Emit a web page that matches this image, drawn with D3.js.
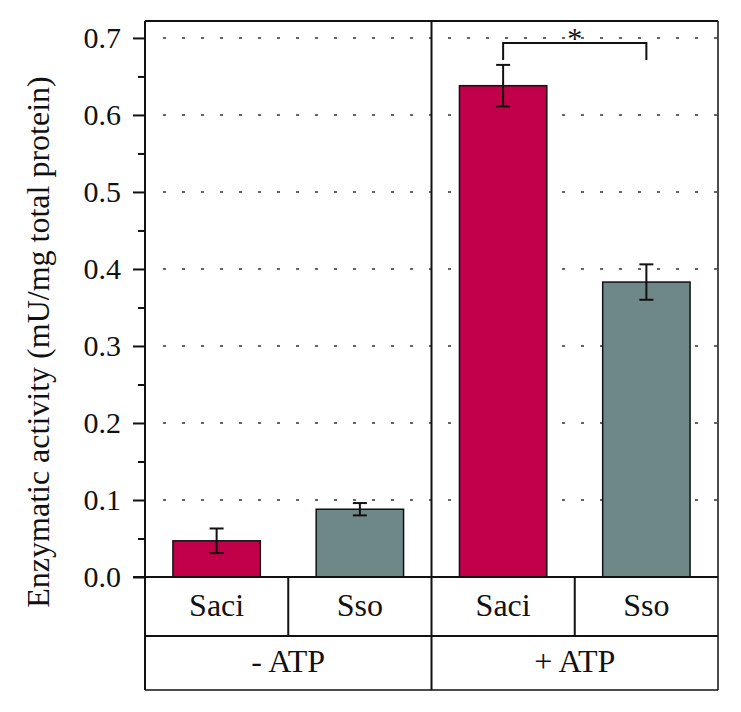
<!DOCTYPE html>
<html>
<head>
<meta charset="utf-8">
<script src="https://cdn.jsdelivr.net/npm/d3@7"></script>
<style>
  html, body { margin: 0; padding: 0; background: #fff; }
  svg { display: block; }
  text { font-family: "Liberation Serif", "Times New Roman", serif; fill: #111; }
</style>
</head>
<body>
<svg id="chart" width="741" height="712"></svg>
<script>
const conditions = ["- ATP", "+ ATP"];
const strains = ["Saci", "Sso"];
const saciMeans = [0.047, 0.638];
const ssoMeans = [0.088, 0.383];
const saciErr = [0.016, 0.027];
const ssoErr = [0.008, 0.023];
const yTicks = [0.0, 0.1, 0.2, 0.3, 0.4, 0.5, 0.6, 0.7];
const yMinorTicks = [0.05, 0.15, 0.25, 0.35, 0.45, 0.55, 0.65];
const yLabel = "Enzymatic activity (mU/mg total protein)";
const sigPair = [["+ ATP", "Saci"], ["+ ATP", "Sso"]];
const sigText = "*";
const colors = { "Saci": "#C10049", "Sso": "#6E8787" };

const data = [];
conditions.forEach((c, i) => {
  data.push({ cond: c, strain: "Saci", mean: saciMeans[i], err: saciErr[i] });
  data.push({ cond: c, strain: "Sso", mean: ssoMeans[i], err: ssoErr[i] });
});

const svg = d3.select("#chart");
const L = 145, R = 718, T = 21, B = 577;
const row1 = 636, row2 = 690;

const y = d3.scaleLinear().domain([0, 0.722]).range([B, T]);
const x0 = d3.scaleBand().domain(conditions).range([L, R]);
const x1 = d3.scaleBand().domain(strains).range([0, x0.bandwidth()])
  .paddingInner(0.39).paddingOuter(0.195);

// gridlines
svg.append("g").selectAll("line").data(yTicks.filter(d => d > 0)).join("line")
  .attr("x1", L + 18).attr("x2", R).attr("y1", d => y(d)).attr("y2", d => y(d))
  .attr("stroke", "#333").attr("stroke-width", 1.4).attr("stroke-dasharray", "3,16");

// bars
const bars = svg.append("g");
bars.selectAll("rect").data(data).join("rect")
  .attr("x", d => x0(d.cond) + x1(d.strain))
  .attr("width", x1.bandwidth())
  .attr("y", d => y(d.mean))
  .attr("height", d => y(0) - y(d.mean))
  .attr("fill", d => colors[d.strain])
  .attr("stroke", "#111").attr("stroke-width", 1.5);

// error bars
const eb = svg.append("g").attr("stroke", "#111").attr("stroke-width", 2).attr("fill", "none");
const cx = d => x0(d.cond) + x1(d.strain) + x1.bandwidth() / 2;
eb.selectAll("line.v").data(data).join("line").attr("class", "v")
  .attr("x1", cx).attr("x2", cx)
  .attr("y1", d => y(d.mean + d.err)).attr("y2", d => y(d.mean - d.err));
eb.selectAll("line.t").data(data).join("line").attr("class", "t")
  .attr("x1", d => cx(d) - 7).attr("x2", d => cx(d) + 7)
  .attr("y1", d => y(d.mean + d.err)).attr("y2", d => y(d.mean + d.err));
eb.selectAll("line.b").data(data).join("line").attr("class", "b")
  .attr("x1", d => cx(d) - 7).attr("x2", d => cx(d) + 7)
  .attr("y1", d => y(d.mean - d.err)).attr("y2", d => y(d.mean - d.err));

// y axis
const yAxis = d3.axisLeft(y).tickValues(yTicks).tickFormat(d3.format(".1f")).tickSize(12).tickPadding(12);
const ag = svg.append("g").attr("transform", `translate(${L},0)`).call(yAxis);
ag.select(".domain").remove();
ag.selectAll(".tick line").attr("stroke", "#111").attr("stroke-width", 2);
ag.selectAll(".tick text").attr("font-size", 30).attr("font-family", "Liberation Serif, serif").attr("fill", "#111");
const minor = d3.axisLeft(y).tickValues(yMinorTicks).tickSize(7).tickFormat("");
const mg = svg.append("g").attr("transform", `translate(${L},0)`).call(minor);
mg.select(".domain").remove();
mg.selectAll(".tick line").attr("stroke", "#111").attr("stroke-width", 2);

// frame
const frame = svg.append("g").attr("stroke", "#111").attr("fill", "none");
frame.append("line").attr("x1", L).attr("x2", R).attr("y1", T).attr("y2", T).attr("stroke-width", 2);
frame.append("line").attr("x1", L).attr("x2", L).attr("y1", T).attr("y2", row2).attr("stroke-width", 2);
frame.append("line").attr("x1", R).attr("x2", R).attr("y1", T).attr("y2", row2).attr("stroke-width", 1.5);
frame.append("line").attr("x1", x0("+ ATP")).attr("x2", x0("+ ATP")).attr("y1", T).attr("y2", row2).attr("stroke-width", 2);
frame.append("line").attr("x1", L - 12).attr("x2", R).attr("y1", B).attr("y2", B).attr("stroke-width", 2);
frame.append("line").attr("x1", L).attr("x2", R).attr("y1", row1).attr("y2", row1).attr("stroke-width", 2);
frame.append("line").attr("x1", L).attr("x2", R).attr("y1", row2).attr("y2", row2).attr("stroke-width", 1.5);
conditions.forEach(c => {
  const xm = x0(c) + x0.bandwidth() / 2;
  frame.append("line").attr("x1", xm).attr("x2", xm).attr("y1", B).attr("y2", row1).attr("stroke-width", 2);
});

// table text
const tt = svg.append("g").attr("font-size", 32).attr("text-anchor", "middle");
tt.selectAll("text.s").data(data).join("text").attr("class", "s")
  .attr("x", d => x0(d.cond) + x0.bandwidth() / 4 + (d.strain === "Sso" ? x0.bandwidth() / 2 : 0))
  .attr("y", 616)
  .text(d => d.strain);
tt.selectAll("text.c").data(conditions).join("text").attr("class", "c")
  .attr("x", c => x0(c) + x0.bandwidth() / 2)
  .attr("y", 672)
  .text(c => c);

// significance bracket
const sd = sigPair.map(p => data.find(d => d.cond === p[0] && d.strain === p[1]));
const bxA = cx(sd[0]), bxB = cx(sd[1]);
const by = 43;
svg.append("path")
  .attr("d", `M${bxA},${by + 17}V${by}H${bxB}V${by + 17}`)
  .attr("fill", "none").attr("stroke", "#111").attr("stroke-width", 2);
svg.append("text").attr("x", (bxA + bxB) / 2).attr("y", 48)
  .attr("text-anchor", "middle").attr("font-size", 30).text(sigText);

// y label
svg.append("text")
  .attr("transform", `translate(49,342) rotate(-90)`)
  .attr("text-anchor", "middle").attr("font-size", 32)
  .text(yLabel);
</script>
</body>
</html>
